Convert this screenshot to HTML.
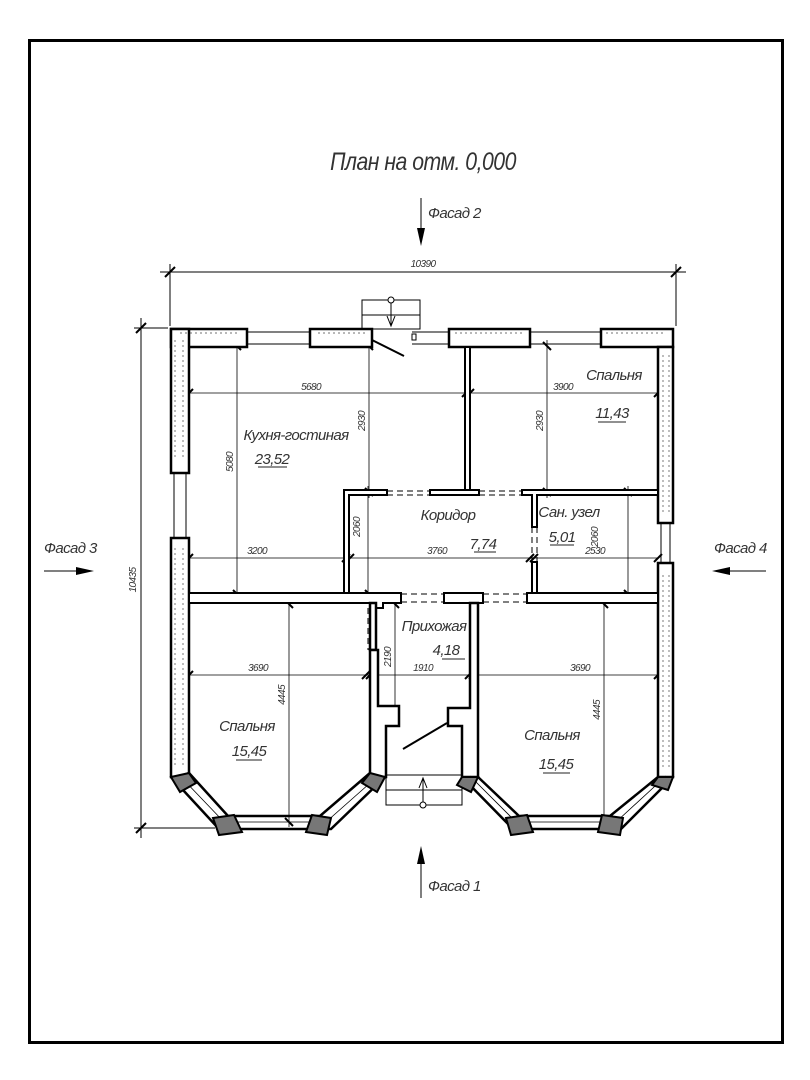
<!DOCTYPE html>
<html><head><meta charset="utf-8">
<style>
html,body{margin:0;padding:0;background:#fff;}
svg{display:block;}
text{font-family:"Liberation Sans","DejaVu Sans",sans-serif;font-style:italic;fill:#333;}
.lb{letter-spacing:-0.6px;}
</style></head>
<body>
<svg width="810" height="1080" viewBox="0 0 810 1080" xmlns="http://www.w3.org/2000/svg">
<rect width="810" height="1080" fill="#fff"/>
<rect x="29.5" y="40.5" width="753" height="1002" fill="none" stroke="#000" stroke-width="3"/>

<text x="423" y="170" font-size="25" text-anchor="middle" class="lb" transform="translate(423 0) scale(0.85 1) translate(-423 0)">План на отм. 0,000</text>

<line x1="421" y1="198" x2="421" y2="232" stroke="#000" stroke-width="1"/>
<polygon points="417,228 425,228 421,246" fill="#000"/>
<text x="428" y="218" font-size="15" class="lb">Фасад 2</text>
<line x1="421" y1="862" x2="421" y2="898" stroke="#000" stroke-width="1"/>
<polygon points="417,864 425,864 421,846" fill="#000"/>
<text x="428" y="891" font-size="15" class="lb">Фасад 1</text>
<text x="44" y="553" font-size="15" class="lb">Фасад 3</text>
<line x1="44" y1="571" x2="80" y2="571" stroke="#000" stroke-width="1"/>
<polygon points="76,567 76,575 94,571" fill="#000"/>
<text x="714" y="553" font-size="15" class="lb">Фасад 4</text>
<line x1="730" y1="571" x2="766" y2="571" stroke="#000" stroke-width="1"/>
<polygon points="730,567 730,575 712,571" fill="#000"/>

<g stroke="#000" stroke-width="1">
<line x1="160" y1="272" x2="686" y2="272"/>
<line x1="170" y1="264" x2="170" y2="326"/>
<line x1="676" y1="264" x2="676" y2="326"/>
<line x1="165" y1="277" x2="175" y2="267" stroke-width="2"/>
<line x1="671" y1="277" x2="681" y2="267" stroke-width="2"/>
<line x1="141" y1="318" x2="141" y2="838"/>
<line x1="134" y1="328" x2="168" y2="328"/>
<line x1="134" y1="828" x2="215" y2="828"/>
<line x1="136" y1="333" x2="146" y2="323" stroke-width="2"/>
<line x1="136" y1="833" x2="146" y2="823" stroke-width="2"/>
</g>
<text x="423" y="267" font-size="10" text-anchor="middle" class="lb">10390</text>
<text x="0" y="0" font-size="10" text-anchor="middle" class="lb" transform="translate(136 580) rotate(-90)">10435</text>

<g stroke="#000" stroke-width="0.8">
<line x1="189" y1="393" x2="658" y2="393"/>
<line x1="189" y1="558" x2="658" y2="558"/>
<line x1="189" y1="675" x2="658" y2="675"/>
<line x1="237" y1="340" x2="237" y2="600"/>
<line x1="369" y1="340" x2="369" y2="498"/>
<line x1="547" y1="340" x2="547" y2="498"/>
<line x1="368" y1="486" x2="368" y2="600"/>
<line x1="628" y1="486" x2="628" y2="600"/>
<line x1="289" y1="596" x2="289" y2="827"/>
<line x1="604" y1="596" x2="604" y2="827"/>
<line x1="395" y1="596" x2="395" y2="712"/>
</g>
<g stroke="#000" stroke-width="2">
<path d="M233,342 l8,8 M365,342 l8,8 M543,342 l8,8 M185,397 l8,-8 M462,397 l8,-8 M466,397 l8,-8 M654,397 l8,-8
M233,590 l8,8 M365,488 l8,8 M543,488 l8,8 M365,590 l8,8 M624,488 l8,8 M624,590 l8,8
M185,562 l8,-8 M342,562 l8,-8 M346,562 l8,-8 M526,562 l8,-8 M530,562 l8,-8 M654,562 l8,-8
M185,679 l8,-8 M362,679 l8,-8 M366,679 l8,-8 M465,679 l8,-8 M469,679 l8,-8 M654,679 l8,-8
M285,600 l8,8 M600,600 l8,8 M391,600 l8,8 M391,706 l8,8 M285,818 l8,8"/>
</g>

<g fill="#fff" stroke="#000" stroke-width="2.5">
<rect x="171" y="329" width="76" height="18"/>
<rect x="310" y="329" width="62" height="18"/>
<rect x="449" y="329" width="81" height="18"/>
<rect x="601" y="329" width="72" height="18"/>
<rect x="171" y="329" width="18" height="144"/>
<path d="M171,538 L189,538 L189,773 L178,777 L171,777 Z"/>
<path d="M658,347 L673,347 L673,523 L658,523 Z"/>
<path d="M658,563 L673,563 L673,777 L658,777 Z"/>
</g>
<g stroke="#000" stroke-width="1" fill="none">
<line x1="247" y1="332" x2="310" y2="332"/><line x1="247" y1="344" x2="310" y2="344"/>
<line x1="530" y1="332" x2="601" y2="332"/><line x1="530" y1="344" x2="601" y2="344"/>
<line x1="174" y1="473" x2="174" y2="538"/><line x1="186" y1="473" x2="186" y2="538"/>
<line x1="661" y1="523" x2="661" y2="563"/><line x1="670" y1="523" x2="670" y2="563"/>
<line x1="412" y1="332" x2="449" y2="332"/><line x1="412" y1="344" x2="449" y2="344"/>
</g>
<rect x="412" y="334" width="4" height="6" fill="#fff" stroke="#000" stroke-width="1"/>
<g stroke="#444" stroke-width="0.7">
<path d="M175,340 v120 M183,340 v120 M175,548 v220 M183,548 v220 M663,355 v160 M669,355 v160 M663,575 v195 M669,575 v195 M180,333 h60 M318,333 h50 M455,333 h70 M606,333 h60" stroke-dasharray="2 3"/>
</g>

<line x1="372" y1="340" x2="404" y2="356" stroke="#000" stroke-width="2"/>
<rect x="362" y="300" width="58" height="29" fill="none" stroke="#000" stroke-width="1"/>
<line x1="362" y1="315" x2="420" y2="315" stroke="#000" stroke-width="1"/>
<circle cx="391" cy="300" r="3" fill="#fff" stroke="#000"/>
<line x1="391" y1="303" x2="391" y2="326" stroke="#000"/>
<path d="M387,316 L391,326 L395,316" fill="none" stroke="#000"/>

<g fill="#fff" stroke="#000" stroke-width="2">
<rect x="465" y="347" width="5" height="143"/>
<path d="M344,490 L387,490 L387,495 L349,495 L349,593 L344,593 Z"/>
<rect x="430" y="490" width="49" height="5"/>
<path d="M522,490 L658,490 L658,495 L537,495 L537,527 L532,527 L532,495 L522,495 Z"/>
<rect x="532" y="562" width="5" height="31"/>
<path d="M189,593 L401,593 L401,603 L383,603 L383,608 L373,608 L373,603 L189,603 Z"/>
<path d="M444,593 L483,593 L483,603 L444,603 Z"/>
<path d="M527,593 L658,593 L658,603 L527,603 Z"/>
</g>
<g stroke="#000" stroke-width="1" stroke-dasharray="6 4">
<line x1="387" y1="491" x2="430" y2="491"/><line x1="387" y1="495" x2="430" y2="495"/>
<line x1="479" y1="491" x2="522" y2="491"/><line x1="479" y1="495" x2="522" y2="495"/>
<line x1="532" y1="527" x2="532" y2="562"/><line x1="537" y1="527" x2="537" y2="562"/>
<line x1="401" y1="594" x2="444" y2="594"/><line x1="401" y1="602" x2="444" y2="602"/>
<line x1="483" y1="594" x2="527" y2="594"/><line x1="483" y1="602" x2="527" y2="602"/>
<line x1="368" y1="608" x2="368" y2="650"/><line x1="376" y1="608" x2="376" y2="650"/>
</g>

<g fill="#fff" stroke="#000" stroke-width="2.5">
<path d="M370,603 L376,603 L376,650 L370,650 Z"/>
<path d="M370,650 L378,650 L378,706 L399,706 L399,726 L386,726 L386,777 L377,777 L370,777 Z"/>
<path d="M470,603 L478,603 L478,777 L462,777 L462,726 L448,726 L448,708 L470,708 Z"/>
</g>
<line x1="403" y1="749" x2="447" y2="723" stroke="#000" stroke-width="2"/>
<rect x="386" y="775" width="76" height="30" fill="none" stroke="#000"/>
<line x1="386" y1="790" x2="462" y2="790" stroke="#000"/>
<line x1="423" y1="778" x2="423" y2="803" stroke="#000"/>
<path d="M419,788 L423,778 L427,788" fill="none" stroke="#000"/>
<circle cx="423" cy="805" r="3" fill="#fff" stroke="#000"/>

<g fill="none" stroke="#000" stroke-width="2.5">
<path d="M171,777 L219,829 L331,829 L385,777"/>
<path d="M189,773 L228,816 L320,816 L370,773"/>
<path d="M462,777 L513,829 L621,829 L673,777"/>
<path d="M478,777 L519,816 L610,816 L658,777"/>
</g>
<g fill="none" stroke="#000" stroke-width="0.8">
<path d="M180,776 L224,822 L326,822 L378,776"/>
<path d="M470,776 L516,822 L616,822 L666,776"/>
</g>
<g fill="#777" stroke="#000" stroke-width="2">
<polygon points="171,777 189,773 196,783 180,792"/>
<polygon points="370,773 385,777 377,792 362,783"/>
<polygon points="213,818 234,815 242,832 219,835"/>
<polygon points="312,815 331,818 327,835 306,832"/>
<polygon points="462,777 478,777 471,792 457,785"/>
<polygon points="658,777 673,777 668,790 652,785"/>
<polygon points="506,818 527,815 533,832 511,835"/>
<polygon points="602,815 623,818 620,835 598,832"/>
</g>

<g font-size="10" class="lb">
<text x="311" y="390" text-anchor="middle">5680</text>
<text x="563" y="390" text-anchor="middle">3900</text>
<text x="257" y="554" text-anchor="middle">3200</text>
<text x="437" y="554" text-anchor="middle">3760</text>
<text x="595" y="554" text-anchor="middle">2530</text>
<text x="258" y="671" text-anchor="middle">3690</text>
<text x="423" y="671" text-anchor="middle">1910</text>
<text x="580" y="671" text-anchor="middle">3690</text>
<text transform="translate(233 462) rotate(-90)" text-anchor="middle">5080</text>
<text transform="translate(365 421) rotate(-90)" text-anchor="middle">2930</text>
<text transform="translate(543 421) rotate(-90)" text-anchor="middle">2930</text>
<text transform="translate(360 527) rotate(-90)" text-anchor="middle">2060</text>
<text transform="translate(598 537) rotate(-90)" text-anchor="middle">2060</text>
<text transform="translate(391 657) rotate(-90)" text-anchor="middle">2190</text>
<text transform="translate(285 695) rotate(-90)" text-anchor="middle">4445</text>
<text transform="translate(600 710) rotate(-90)" text-anchor="middle">4445</text>
</g>
<g font-size="15" text-anchor="middle" class="lb">
<text x="296" y="440">Кухня-гостиная</text>
<text x="272" y="464">23,52</text>
<text x="614" y="380">Спальня</text>
<text x="612" y="418">11,43</text>
<text x="448" y="520">Коридор</text>
<text x="483" y="549">7,74</text>
<text x="569" y="517">Сан. узел</text>
<text x="562" y="542">5,01</text>
<text x="434" y="631">Прихожая</text>
<text x="446" y="655">4,18</text>
<text x="247" y="731">Спальня</text>
<text x="249" y="756">15,45</text>
<text x="552" y="740">Спальня</text>
<text x="556" y="769">15,45</text>
</g>
<g stroke="#222" stroke-width="1">
<line x1="258" y1="467" x2="287" y2="467"/>
<line x1="598" y1="422" x2="626" y2="422"/>
<line x1="474" y1="552" x2="496" y2="552"/>
<line x1="550" y1="545" x2="574" y2="545"/>
<line x1="442" y1="659" x2="465" y2="659"/>
<line x1="236" y1="760" x2="262" y2="760"/>
<line x1="543" y1="773" x2="570" y2="773"/>
</g>
</svg>
</body></html>
